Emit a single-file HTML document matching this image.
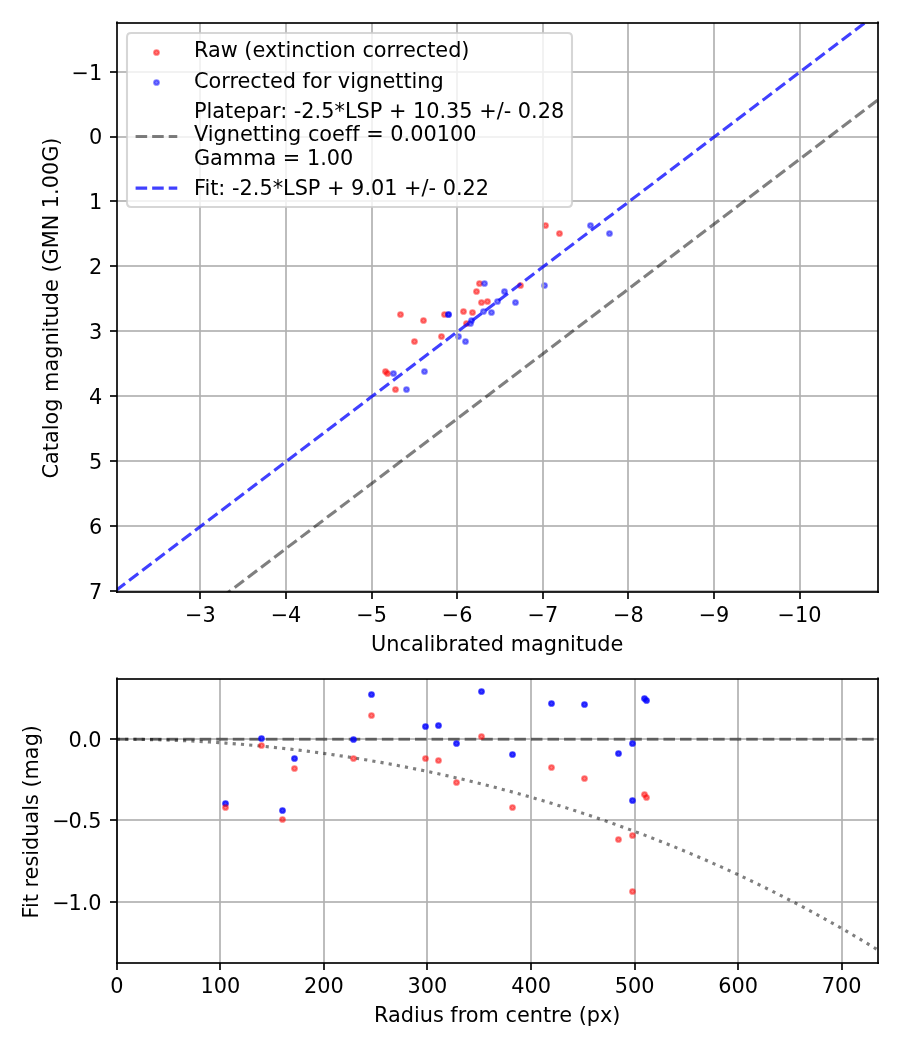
<!DOCTYPE html>
<html lang="en"><head><meta charset="utf-8"><title>Photometry fit</title>
<style>html,body{margin:0;padding:0;background:#fff}svg{display:block}text{font-family:'DejaVu Sans','Liberation Sans',sans-serif;font-size:20.8333px;fill:#000;font-variant-ligatures:none;font-kerning:normal}</style></head><body>
<svg width="900" height="1050" viewBox="0 0 900 1050">
<rect width="900" height="1050" fill="#fff"/>
<defs>
<clipPath id="ct"><rect x="116.85" y="22.5" width="760.65" height="569.5"/></clipPath>
<clipPath id="cb"><rect x="116.85" y="678.6" width="760.65" height="284.0"/></clipPath>
</defs>
<g id="top">
<g clip-path="url(#ct)">
<g fill="#ff0000" stroke="#ff0000" fill-opacity="0.5" stroke-opacity="0.5" stroke-width="2.0833">
<circle cx="400.50" cy="314.50" r="2.33"/>
<circle cx="423.50" cy="320.50" r="2.33"/>
<circle cx="444.50" cy="314.50" r="2.33"/>
<circle cx="414.50" cy="341.50" r="2.33"/>
<circle cx="441.50" cy="336.50" r="2.33"/>
<circle cx="385.50" cy="371.50" r="2.33"/>
<circle cx="387.50" cy="373.50" r="2.33"/>
<circle cx="395.50" cy="389.50" r="2.33"/>
<circle cx="463.50" cy="311.50" r="2.33"/>
<circle cx="472.50" cy="312.50" r="2.33"/>
<circle cx="466.50" cy="323.50" r="2.33"/>
<circle cx="479.50" cy="283.50" r="2.33"/>
<circle cx="476.50" cy="291.50" r="2.33"/>
<circle cx="481.50" cy="302.50" r="2.33"/>
<circle cx="487.50" cy="301.50" r="2.33"/>
<circle cx="520.50" cy="285.50" r="2.33"/>
<circle cx="545.50" cy="225.50" r="2.33"/>
<circle cx="559.50" cy="233.50" r="2.33"/>
</g>
<g fill="#0000ff" stroke="#0000ff" fill-opacity="0.5" stroke-opacity="0.5" stroke-width="2.0833">
<circle cx="448.50" cy="314.50" r="2.33"/>
<circle cx="448.50" cy="314.50" r="2.33"/>
<circle cx="393.50" cy="373.50" r="2.33"/>
<circle cx="424.50" cy="371.50" r="2.33"/>
<circle cx="406.50" cy="389.50" r="2.33"/>
<circle cx="458.50" cy="336.50" r="2.33"/>
<circle cx="465.50" cy="341.50" r="2.33"/>
<circle cx="470.50" cy="323.50" r="2.33"/>
<circle cx="471.50" cy="320.50" r="2.33"/>
<circle cx="483.50" cy="311.50" r="2.33"/>
<circle cx="491.50" cy="312.50" r="2.33"/>
<circle cx="484.50" cy="283.50" r="2.33"/>
<circle cx="497.50" cy="301.50" r="2.33"/>
<circle cx="504.50" cy="291.50" r="2.33"/>
<circle cx="515.50" cy="302.50" r="2.33"/>
<circle cx="590.50" cy="225.50" r="2.33"/>
<circle cx="609.50" cy="233.50" r="2.33"/>
<circle cx="544.50" cy="285.50" r="2.33"/>
</g>
</g>
<rect x="199" y="23" width="2" height="569" fill="#b0b0b0" fill-opacity="0.835"/>
<rect x="285" y="23" width="2" height="569" fill="#b0b0b0" fill-opacity="0.835"/>
<rect x="371" y="23" width="2" height="569" fill="#b0b0b0" fill-opacity="0.835"/>
<rect x="456" y="23" width="2" height="569" fill="#b0b0b0" fill-opacity="0.835"/>
<rect x="542" y="23" width="2" height="569" fill="#b0b0b0" fill-opacity="0.835"/>
<rect x="627" y="23" width="2" height="569" fill="#b0b0b0" fill-opacity="0.835"/>
<rect x="713" y="23" width="2" height="569" fill="#b0b0b0" fill-opacity="0.835"/>
<rect x="799" y="23" width="2" height="569" fill="#b0b0b0" fill-opacity="0.835"/>
<rect x="117" y="71" width="761" height="2" fill="#b0b0b0" fill-opacity="0.835"/>
<rect x="117" y="136" width="761" height="2" fill="#b0b0b0" fill-opacity="0.835"/>
<rect x="117" y="200" width="761" height="2" fill="#b0b0b0" fill-opacity="0.835"/>
<rect x="117" y="265" width="761" height="2" fill="#b0b0b0" fill-opacity="0.835"/>
<rect x="117" y="330" width="761" height="2" fill="#b0b0b0" fill-opacity="0.835"/>
<rect x="117" y="395" width="761" height="2" fill="#b0b0b0" fill-opacity="0.835"/>
<rect x="117" y="460" width="761" height="2" fill="#b0b0b0" fill-opacity="0.835"/>
<rect x="117" y="525" width="761" height="2" fill="#b0b0b0" fill-opacity="0.835"/>
<rect x="117" y="590" width="761" height="2" fill="#b0b0b0" fill-opacity="0.835"/>
<path d="M877.50 100.24 L792.98 164.29 L708.46 228.34 L623.95 292.39 L539.43 356.44 L454.92 420.48 L370.40 484.53 L285.89 548.58 L201.37 612.63 L116.85 676.68" fill="none" stroke="#000" stroke-opacity="0.5" stroke-width="3.125" stroke-dasharray="11.5625,5" stroke-dashoffset="0" clip-path="url(#ct)"/>
<path d="M877.50 13.32 L792.98 77.37 L708.46 141.41 L623.95 205.46 L539.43 269.51 L454.92 333.56 L370.40 397.61 L285.89 461.66 L201.37 525.70 L116.85 589.75" fill="none" stroke="#0000ff" stroke-opacity="0.75" stroke-width="3.125" stroke-dasharray="11.5625,5" stroke-dashoffset="0" clip-path="url(#ct)"/>
<rect x="199" y="592" width="2" height="7" fill="#000" fill-opacity="0.835"/>
<rect x="285" y="592" width="2" height="7" fill="#000" fill-opacity="0.835"/>
<rect x="371" y="592" width="2" height="7" fill="#000" fill-opacity="0.835"/>
<rect x="456" y="592" width="2" height="7" fill="#000" fill-opacity="0.835"/>
<rect x="542" y="592" width="2" height="7" fill="#000" fill-opacity="0.835"/>
<rect x="627" y="592" width="2" height="7" fill="#000" fill-opacity="0.835"/>
<rect x="713" y="592" width="2" height="7" fill="#000" fill-opacity="0.835"/>
<rect x="799" y="592" width="2" height="7" fill="#000" fill-opacity="0.835"/>
<rect x="110" y="71" width="7" height="2" fill="#000" fill-opacity="0.835"/>
<rect x="110" y="136" width="7" height="2" fill="#000" fill-opacity="0.835"/>
<rect x="110" y="200" width="7" height="2" fill="#000" fill-opacity="0.835"/>
<rect x="110" y="265" width="7" height="2" fill="#000" fill-opacity="0.835"/>
<rect x="110" y="330" width="7" height="2" fill="#000" fill-opacity="0.835"/>
<rect x="110" y="395" width="7" height="2" fill="#000" fill-opacity="0.835"/>
<rect x="110" y="460" width="7" height="2" fill="#000" fill-opacity="0.835"/>
<rect x="110" y="525" width="7" height="2" fill="#000" fill-opacity="0.835"/>
<rect x="110" y="590" width="7" height="2" fill="#000" fill-opacity="0.835"/>
<rect x="116" y="22" width="2" height="571" fill="#000" fill-opacity="0.835"/>
<rect x="877" y="22" width="2" height="571" fill="#000" fill-opacity="0.835"/>
<rect x="116" y="22" width="763" height="2" fill="#000" fill-opacity="0.835"/>
<rect x="116" y="591" width="763" height="2" fill="#000" fill-opacity="0.835"/>
<rect x="116" y="21" width="2" height="1" fill="#000" fill-opacity="0.45"/>
<rect x="877" y="21" width="2" height="1" fill="#000" fill-opacity="0.45"/>
<text x="200.40" y="622.40" text-anchor="middle">−3</text>
<text x="286.00" y="622.40" text-anchor="middle">−4</text>
<text x="371.60" y="622.40" text-anchor="middle">−5</text>
<text x="457.20" y="622.40" text-anchor="middle">−6</text>
<text x="542.80" y="622.40" text-anchor="middle">−7</text>
<text x="628.40" y="622.40" text-anchor="middle">−8</text>
<text x="714.00" y="622.40" text-anchor="middle">−9</text>
<text x="799.60" y="622.40" text-anchor="middle">−10</text>
<text x="102.27" y="79.62" text-anchor="end">−1</text>
<text x="102.27" y="144.49" text-anchor="end">0</text>
<text x="102.27" y="209.36" text-anchor="end">1</text>
<text x="102.27" y="274.23" text-anchor="end">2</text>
<text x="102.27" y="339.10" text-anchor="end">3</text>
<text x="102.27" y="403.97" text-anchor="end">4</text>
<text x="102.27" y="468.84" text-anchor="end">5</text>
<text x="102.27" y="533.71" text-anchor="end">6</text>
<text x="102.27" y="598.58" text-anchor="end">7</text>
<text x="497.18" y="650.90" text-anchor="middle">Uncalibrated magnitude</text>
<text transform="translate(58.0 308.0) rotate(-90)" text-anchor="middle">Catalog magnitude (GMN 1.00G)</text>
<g id="legend">
<path d="M131.17 207L567.83 207Q572 207 572 202.83L572 37.17Q572 33 567.83 33L131.17 33Q127 33 127 37.17L127 202.83Q127 207 131.17 207Z" fill="#fff" fill-opacity="0.8" stroke="#ccc" stroke-opacity="0.8" stroke-width="2.083"/>
<g fill="#ff0000" stroke="#ff0000" fill-opacity="0.5" stroke-opacity="0.5" stroke-width="2.0833">
<circle cx="156.50" cy="52.50" r="2.33"/>
</g>
<g fill="#0000ff" stroke="#0000ff" fill-opacity="0.5" stroke-opacity="0.5" stroke-width="2.0833">
<circle cx="156.50" cy="82.50" r="2.33"/>
</g>
<path d="M135.60 136.44H177.27" fill="none" stroke="#000" stroke-opacity="0.5" stroke-width="3.125" stroke-dasharray="11.5625,5"/>
<path d="M135.60 188.18H177.27" fill="none" stroke="#0000ff" stroke-opacity="0.75" stroke-width="3.125" stroke-dasharray="11.5625,5"/>
<text x="193.94" y="57.08" text-anchor="start">Raw (extinction corrected)</text>
<text x="193.94" y="87.66" text-anchor="start">Corrected for vignetting</text>
<text x="193.94" y="118.24" text-anchor="start">Platepar: -2.5*LSP + 10.35 +/- 0.28</text>
<text x="193.94" y="140.90" text-anchor="start">Vignetting coeff = 0.00100</text>
<text x="193.94" y="164.90" text-anchor="start">Gamma = 1.00</text>
<text x="193.94" y="195.48" text-anchor="start">Fit: -2.5*LSP + 9.01 +/- 0.22</text>
</g>
</g>
<g id="bottom">
<rect x="116" y="679" width="2" height="284" fill="#b0b0b0" fill-opacity="0.835"/>
<rect x="219" y="679" width="2" height="284" fill="#b0b0b0" fill-opacity="0.835"/>
<rect x="323" y="679" width="2" height="284" fill="#b0b0b0" fill-opacity="0.835"/>
<rect x="426" y="679" width="2" height="284" fill="#b0b0b0" fill-opacity="0.835"/>
<rect x="530" y="679" width="2" height="284" fill="#b0b0b0" fill-opacity="0.835"/>
<rect x="634" y="679" width="2" height="284" fill="#b0b0b0" fill-opacity="0.835"/>
<rect x="737" y="679" width="2" height="284" fill="#b0b0b0" fill-opacity="0.835"/>
<rect x="841" y="679" width="2" height="284" fill="#b0b0b0" fill-opacity="0.835"/>
<rect x="117" y="738" width="761" height="2" fill="#b0b0b0" fill-opacity="0.835"/>
<rect x="117" y="819" width="761" height="2" fill="#b0b0b0" fill-opacity="0.835"/>
<rect x="117" y="901" width="761" height="2" fill="#b0b0b0" fill-opacity="0.835"/>
<path d="M116.85 739.20H877.50" fill="none" stroke="#000" stroke-opacity="0.5" stroke-width="3.125" stroke-dasharray="11.5625,5" clip-path="url(#cb)"/>
<path d="M116.85 739.20 L132.37 739.28 L147.90 739.52 L163.42 739.91 L178.94 740.47 L194.47 741.18 L209.99 742.06 L225.51 743.09 L241.04 744.29 L256.56 745.64 L272.08 747.16 L287.61 748.84 L303.13 750.68 L318.65 752.69 L334.18 754.86 L349.70 757.20 L365.22 759.70 L380.75 762.38 L396.27 765.22 L411.79 768.23 L427.32 771.41 L442.84 774.77 L458.36 778.31 L473.89 782.02 L489.41 785.91 L504.93 789.98 L520.46 794.23 L535.98 798.67 L551.51 803.30 L567.03 808.12 L582.55 813.13 L598.08 818.34 L613.60 823.74 L629.12 829.35 L644.65 835.16 L660.17 841.18 L675.69 847.41 L691.22 853.86 L706.74 860.52 L722.26 867.41 L737.79 874.53 L753.31 881.88 L768.83 889.47 L784.36 897.31 L799.88 905.39 L815.40 913.72 L830.93 922.31 L846.45 931.18 L861.97 940.31 L877.50 949.73" fill="none" stroke="#000" stroke-opacity="0.5" stroke-width="3.125" stroke-dasharray="3.125,5.15625" clip-path="url(#cb)"/>
<rect x="116" y="963" width="2" height="7" fill="#000" fill-opacity="0.835"/>
<rect x="219" y="963" width="2" height="7" fill="#000" fill-opacity="0.835"/>
<rect x="323" y="963" width="2" height="7" fill="#000" fill-opacity="0.835"/>
<rect x="426" y="963" width="2" height="7" fill="#000" fill-opacity="0.835"/>
<rect x="530" y="963" width="2" height="7" fill="#000" fill-opacity="0.835"/>
<rect x="634" y="963" width="2" height="7" fill="#000" fill-opacity="0.835"/>
<rect x="737" y="963" width="2" height="7" fill="#000" fill-opacity="0.835"/>
<rect x="841" y="963" width="2" height="7" fill="#000" fill-opacity="0.835"/>
<rect x="110" y="738" width="7" height="2" fill="#000" fill-opacity="0.835"/>
<rect x="110" y="819" width="7" height="2" fill="#000" fill-opacity="0.835"/>
<rect x="110" y="901" width="7" height="2" fill="#000" fill-opacity="0.835"/>
<rect x="116" y="678" width="2" height="286" fill="#000" fill-opacity="0.835"/>
<rect x="877" y="678" width="2" height="286" fill="#000" fill-opacity="0.835"/>
<rect x="116" y="678" width="763" height="2" fill="#000" fill-opacity="0.835"/>
<rect x="116" y="962" width="763" height="2" fill="#000" fill-opacity="0.835"/>
<rect x="116" y="677" width="2" height="1" fill="#000" fill-opacity="0.45"/>
<rect x="877" y="677" width="2" height="1" fill="#000" fill-opacity="0.45"/>
<g clip-path="url(#cb)">
<g fill="#0000ff" stroke="#0000ff" fill-opacity="0.75" stroke-opacity="0.75" stroke-width="2.0833">
<circle cx="225.50" cy="803.50" r="2.33"/>
<circle cx="261.50" cy="738.50" r="2.33"/>
<circle cx="282.50" cy="810.50" r="2.33"/>
<circle cx="294.50" cy="758.50" r="2.33"/>
<circle cx="353.50" cy="739.50" r="2.33"/>
<circle cx="371.50" cy="694.50" r="2.33"/>
<circle cx="425.50" cy="726.50" r="2.33"/>
<circle cx="438.50" cy="725.50" r="2.33"/>
<circle cx="456.50" cy="743.50" r="2.33"/>
<circle cx="481.50" cy="691.50" r="2.33"/>
<circle cx="512.50" cy="754.50" r="2.33"/>
<circle cx="551.50" cy="703.50" r="2.33"/>
<circle cx="584.50" cy="704.50" r="2.33"/>
<circle cx="618.50" cy="753.50" r="2.33"/>
<circle cx="632.50" cy="743.50" r="2.33"/>
<circle cx="632.50" cy="800.50" r="2.33"/>
<circle cx="644.50" cy="698.50" r="2.33"/>
<circle cx="646.50" cy="700.50" r="2.33"/>
</g>
<g fill="#ff0000" stroke="#ff0000" fill-opacity="0.5" stroke-opacity="0.5" stroke-width="2.0833">
<circle cx="225.50" cy="807.50" r="2.33"/>
<circle cx="261.50" cy="745.50" r="2.33"/>
<circle cx="282.50" cy="819.50" r="2.33"/>
<circle cx="294.50" cy="768.50" r="2.33"/>
<circle cx="353.50" cy="758.50" r="2.33"/>
<circle cx="371.50" cy="715.50" r="2.33"/>
<circle cx="425.50" cy="758.50" r="2.33"/>
<circle cx="438.50" cy="760.50" r="2.33"/>
<circle cx="456.50" cy="782.50" r="2.33"/>
<circle cx="481.50" cy="736.50" r="2.33"/>
<circle cx="512.50" cy="807.50" r="2.33"/>
<circle cx="551.50" cy="767.50" r="2.33"/>
<circle cx="584.50" cy="778.50" r="2.33"/>
<circle cx="618.50" cy="839.50" r="2.33"/>
<circle cx="632.50" cy="835.50" r="2.33"/>
<circle cx="632.50" cy="891.50" r="2.33"/>
<circle cx="644.50" cy="794.50" r="2.33"/>
<circle cx="646.50" cy="797.50" r="2.33"/>
</g>
</g>
<text x="116.85" y="993.30" text-anchor="middle">0</text>
<text x="220.39" y="993.30" text-anchor="middle">100</text>
<text x="323.93" y="993.30" text-anchor="middle">200</text>
<text x="427.47" y="993.30" text-anchor="middle">300</text>
<text x="531.01" y="993.30" text-anchor="middle">400</text>
<text x="634.55" y="993.30" text-anchor="middle">500</text>
<text x="738.09" y="993.30" text-anchor="middle">600</text>
<text x="841.63" y="993.30" text-anchor="middle">700</text>
<text x="101.55" y="747.12" text-anchor="end">0.0</text>
<text x="101.55" y="828.37" text-anchor="end">−<tspan dx="-1.2">0.5</tspan></text>
<text x="101.55" y="909.62" text-anchor="end">−<tspan dx="-1.2">1.0</tspan></text>
<text x="497.18" y="1021.50" text-anchor="middle">Radius from centre (px)</text>
<text transform="translate(38.1 821.8) rotate(-90)" text-anchor="middle">Fit residuals (mag)</text>
</g>
</svg></body></html>
